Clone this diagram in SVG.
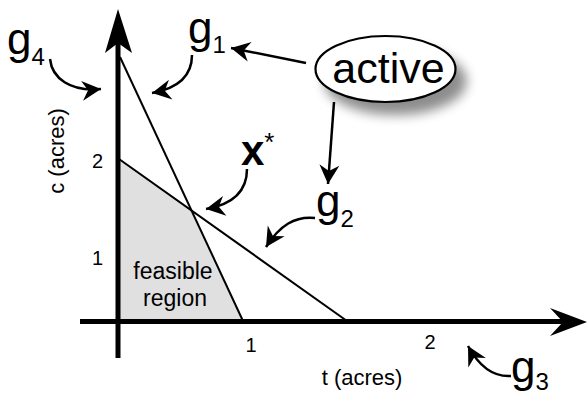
<svg xmlns="http://www.w3.org/2000/svg" width="587" height="396" viewBox="0 0 587 396">
<style>
text{font-family:"Liberation Sans",Arial,Helvetica,sans-serif;fill:#000}
.big{font-size:44px}
.sub{font-size:24px}
.tick{font-size:20px}
.lab{font-size:22px}
.conn{fill:none;stroke:#000;stroke-width:2.5;marker-end:url(#ah)}
.line{fill:none;stroke:#000;stroke-width:2}
.axis{fill:none;stroke:#000;stroke-width:5}
</style>
<defs>
<marker id="ah" viewBox="-22 -12 24 24" refX="0" refY="0" markerWidth="24" markerHeight="24" markerUnits="userSpaceOnUse" orient="auto">
<path d="M0,0 L-19,-10 L-13,0 L-19,10 Z" fill="#000"/>
</marker>
<filter id="sh" x="-30%" y="-30%" width="160%" height="180%">
<feGaussianBlur in="SourceAlpha" stdDeviation="6"/>
<feOffset dx="10" dy="12" result="b"/>
<feComponentTransfer><feFuncA type="linear" slope="0.45"/></feComponentTransfer>
<feMerge><feMergeNode/><feMergeNode in="SourceGraphic"/></feMerge>
</filter>
</defs>

<g id="feasible-region">
<polygon points="120,159 191,209 243,321 120,321" fill="#e0e0e0"/>
<text class="lab" x="173" y="279" text-anchor="middle" style="font-size:23px">feasible</text>
<text class="lab" x="175" y="306" text-anchor="middle" style="font-size:23px">region</text>
</g>

<g id="constraint-lines">
<line class="line" x1="120" y1="57" x2="243" y2="321"/>
<line class="line" x1="119" y1="159" x2="347" y2="321"/>
</g>

<g id="axes">
<line class="axis" x1="118" y1="40" x2="118" y2="358"/>
<polygon points="118,9 132,53 118,43 105,53" fill="#000"/>
<line class="axis" x1="80" y1="321.5" x2="566" y2="321.5"/>
<polygon points="587,322 550,308 563,322 550,336" fill="#000"/>
<text class="tick" x="103" y="168" text-anchor="end">2</text>
<text class="tick" x="103" y="265" text-anchor="end">1</text>
<text class="tick" x="251" y="352" text-anchor="middle">1</text>
<text class="tick" x="430" y="349" text-anchor="middle">2</text>
<text class="lab" transform="translate(63.5,151) rotate(-90)" text-anchor="middle">c (acres)</text>
<text class="lab" x="362" y="385" text-anchor="middle">t (acres)</text>
</g>

<g id="g4"><text class="big" x="7" y="54">g<tspan class="sub" dy="11">4</tspan></text></g>
<g id="g1"><text class="big" x="188" y="43">g<tspan class="sub" dy="10">1</tspan></text></g>
<g id="g2"><text class="big" x="316" y="216">g<tspan class="sub" dy="11">2</tspan></text></g>
<g id="g3"><text class="big" x="511" y="382">g<tspan class="sub" dy="8">3</tspan></text></g>
<g id="xstar"><text x="241" y="165" style="font-size:42px;font-weight:bold">x<tspan style="font-size:26px;font-weight:normal" dy="-14">*</tspan></text></g>

<g id="active">
<ellipse cx="385.5" cy="69" rx="70" ry="33" fill="#fff" stroke="#000" stroke-width="2.2" filter="url(#sh)"/>
<text x="388.5" y="82.5" text-anchor="middle" style="font-size:43px">active</text>
</g>

<g id="connectors">
<path class="conn" d="M306,63 L231,48"/>
<path class="conn" d="M334,102 L328,184"/>
<path class="conn" d="M50,59 C52,78 70,92 101,89"/>
<path class="conn" d="M192,55 C192,75 180,88 152,93"/>
<path class="conn" d="M247,169 C247,190 235,204 206,209"/>
<path class="conn" d="M315,218 C295,216 280,225 266,247"/>
<path class="conn" d="M511,376 C495,377 480,368 468,346"/>
</g>
</svg>
